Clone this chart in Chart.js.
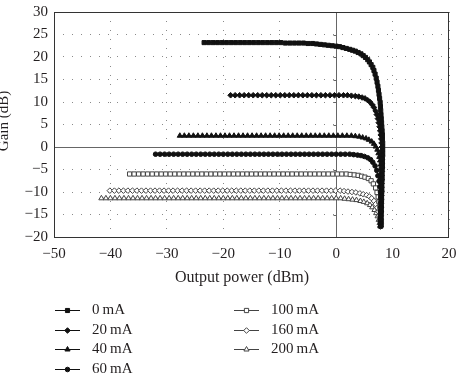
<!DOCTYPE html>
<html>
<head>
<meta charset="utf-8">
<script src="https://cdn.jsdelivr.net/npm/chart.js@4.4.0/dist/chart.umd.min.js"></script>
<style>
  html, body { margin: 0; padding: 0; background: #fff; }
  #wrap { position: relative; width: 457px; height: 374px; }
</style>
</head>
<body>
<div id="wrap"><canvas id="myChart" width="457" height="374"></canvas></div>
<script>
// [output power (dBm), gain (dB)]
const mA0 = [
  [-23.4,23.2],[-22.6,23.2],[-21.8,23.2],[-21.0,23.2],[-20.2,23.2],[-19.4,23.2],[-18.6,23.2],[-17.8,23.2],
  [-17.0,23.2],[-16.2,23.2],[-15.4,23.2],[-14.6,23.2],[-13.8,23.2],[-13.0,23.2],[-12.2,23.2],[-11.4,23.2],
  [-10.6,23.2],[-9.8,23.2],[-9.0,23.1],[-8.2,23.1],[-7.4,23.1],[-6.6,23.1],[-5.8,23.1],[-5.0,23.0],[-4.2,23.0],
  [-3.5,22.9],[-2.8,22.8],[-2.1,22.7],[-1.4,22.6],[-0.7,22.5],[0.0,22.4],[0.6,22.3],[1.2,22.1],[1.8,21.9],
  [2.4,21.7],[2.9,21.5],[3.4,21.3],[3.9,21.0],[4.4,20.7],[4.8,20.3],[5.2,19.9],[5.6,19.4],[5.9,18.9],
  [6.2,18.3],[6.5,17.7],[6.7,17.0],[6.9,16.2],[7.1,15.3],[7.25,14.4],[7.4,13.5],[7.5,12.6],[7.6,11.7],
  [7.7,10.8],[7.8,9.9],[7.85,9.0],[7.9,8.1],[7.95,7.2],[8.0,6.3],[8.05,5.4],[8.1,4.5],[8.15,3.6],[8.2,2.7],
  [8.2,1.8],[8.25,0.9],[8.25,0.0],[8.25,-0.9],[8.25,-1.8],[8.2,-2.7],[8.2,-3.6],[8.2,-4.5],[8.15,-5.4],
  [8.15,-6.3],[8.15,-7.2],[8.1,-8.1],[8.1,-9.0],[8.1,-9.9],[8.05,-10.8],[8.05,-11.7],[8.0,-12.6],[8.0,-13.5],
  [8.0,-14.4],[7.95,-15.3],[7.95,-16.2],[7.9,-17.1],[7.9,-17.6]
];
const mA20 = [
  [-18.7,11.5],[-17.9,11.5],[-17.1,11.5],[-16.3,11.5],[-15.5,11.5],[-14.7,11.5],[-13.9,11.5],[-13.1,11.5],
  [-12.3,11.5],[-11.5,11.5],[-10.7,11.5],[-9.9,11.5],[-9.1,11.5],[-8.3,11.5],[-7.5,11.5],[-6.7,11.5],
  [-5.9,11.5],[-5.1,11.5],[-4.3,11.5],[-3.5,11.5],[-2.7,11.5],[-1.9,11.5],[-1.1,11.5],[-0.3,11.5],[0.5,11.5],
  [1.3,11.5],[2.0,11.5],[2.7,11.4],[3.4,11.3],[4.0,11.2],[4.6,11.0],[5.1,10.8],[5.6,10.4],[6.0,10.0],[6.4,9.4],
  [6.7,8.8],[7.0,8.0],[7.2,7.2],[7.4,6.3],[7.55,5.4],[7.7,4.5],[7.8,3.6],[7.9,2.7],[8.0,1.8],[8.05,0.9],
  [8.1,0.0],[8.15,-0.9],[8.15,-1.8],[8.15,-2.7],[8.1,-3.6],[8.1,-4.5],[8.1,-5.4],[8.05,-6.3],[8.05,-7.2],
  [8.05,-8.1],[8.0,-9.0],[8.0,-9.9],[8.0,-10.8],[7.95,-11.7],[7.95,-12.6],[7.95,-13.5],[7.9,-14.4],
  [7.9,-15.3],[7.9,-16.2],[7.9,-17.1]
];
const mA40 = [
  [-27.7,2.5],[-26.9,2.5],[-26.1,2.5],[-25.3,2.5],[-24.5,2.5],[-23.7,2.5],[-22.9,2.5],[-22.1,2.5],[-21.3,2.5],
  [-20.5,2.5],[-19.7,2.5],[-18.9,2.5],[-18.1,2.5],[-17.3,2.5],[-16.5,2.5],[-15.7,2.5],[-14.9,2.5],[-14.1,2.5],
  [-13.3,2.5],[-12.5,2.5],[-11.7,2.5],[-10.9,2.5],[-10.1,2.5],[-9.3,2.5],[-8.5,2.5],[-7.7,2.5],[-6.9,2.5],
  [-6.1,2.5],[-5.3,2.5],[-4.5,2.5],[-3.7,2.5],[-2.9,2.5],[-2.1,2.5],[-1.3,2.5],[-0.5,2.5],[0.3,2.5],[1.1,2.5],
  [1.9,2.5],[2.7,2.5],[3.4,2.4],[4.1,2.3],[4.7,2.1],[5.3,1.9],[5.8,1.6],[6.3,1.2],[6.7,0.7],[7.0,0.1],
  [7.3,-0.6],[7.5,-1.4],[7.65,-2.2],[7.8,-3.0],[7.9,-3.9],[7.95,-4.8],[8.0,-5.7],[8.0,-6.6],[8.0,-7.5],
  [8.0,-8.4],[8.0,-9.3],[7.95,-10.2],[7.95,-11.1],[7.95,-12.0],[7.95,-12.9],[7.9,-13.8],[7.9,-14.7],
  [7.9,-15.6],[7.9,-16.5],[7.9,-17.4]
];
const mA60 = [
  [-32.0,-1.6],[-31.2,-1.6],[-30.4,-1.6],[-29.6,-1.6],[-28.8,-1.6],[-28.0,-1.6],[-27.2,-1.6],[-26.4,-1.6],
  [-25.6,-1.6],[-24.8,-1.6],[-24.0,-1.6],[-23.2,-1.6],[-22.4,-1.6],[-21.6,-1.6],[-20.8,-1.6],[-20.0,-1.6],
  [-19.2,-1.6],[-18.4,-1.6],[-17.6,-1.6],[-16.8,-1.6],[-16.0,-1.6],[-15.2,-1.6],[-14.4,-1.6],[-13.6,-1.6],
  [-12.8,-1.6],[-12.0,-1.6],[-11.2,-1.6],[-10.4,-1.6],[-9.6,-1.6],[-8.8,-1.6],[-8.0,-1.6],[-7.2,-1.6],
  [-6.4,-1.6],[-5.6,-1.6],[-4.8,-1.6],[-4.0,-1.6],[-3.2,-1.6],[-2.4,-1.6],[-1.6,-1.6],[-0.8,-1.6],[0.0,-1.6],
  [0.8,-1.6],[1.6,-1.6],[2.4,-1.6],[3.1,-1.7],[3.8,-1.8],[4.4,-1.9],[5.0,-2.1],[5.6,-2.4],[6.1,-2.8],
  [6.5,-3.4],[6.9,-4.2],[7.2,-5.2],[7.4,-6.4],[7.6,-7.6],[7.75,-8.8],[7.85,-10.0],[7.9,-11.1],[7.95,-12.2],
  [7.95,-13.3],[7.95,-14.4],[7.9,-15.5],[7.9,-16.6],[7.9,-17.5]
];
const mA100 = [
  [-36.6,-6.0],[-35.8,-6.0],[-35.0,-6.0],[-34.2,-6.0],[-33.4,-6.0],[-32.6,-6.0],[-31.8,-6.0],[-31.0,-6.0],
  [-30.2,-6.0],[-29.4,-6.0],[-28.6,-6.0],[-27.8,-6.0],[-27.0,-6.0],[-26.2,-6.0],[-25.4,-6.0],[-24.6,-6.0],
  [-23.8,-6.0],[-23.0,-6.0],[-22.2,-6.0],[-21.4,-6.0],[-20.6,-6.0],[-19.8,-6.0],[-19.0,-6.0],[-18.2,-6.0],
  [-17.4,-6.0],[-16.6,-6.0],[-15.8,-6.0],[-15.0,-6.0],[-14.2,-6.0],[-13.4,-6.0],[-12.6,-6.0],[-11.8,-6.0],
  [-11.0,-6.0],[-10.2,-6.0],[-9.4,-6.0],[-8.6,-6.0],[-7.8,-6.0],[-7.0,-6.0],[-6.2,-6.0],[-5.4,-6.0],
  [-4.6,-6.0],[-3.8,-6.0],[-3.0,-6.0],[-2.2,-6.0],[-1.4,-6.0],[-0.6,-6.0],[0.2,-6.0],[1.0,-6.0],[1.8,-6.0],
  [2.5,-6.1],[3.2,-6.2],[3.9,-6.3],[4.5,-6.5],[5.1,-6.7],[5.7,-7.0],[6.2,-7.5],[6.6,-8.2],[7.0,-9.1],
  [7.25,-10.1],[7.45,-11.1],[7.6,-12.2],[7.75,-13.3],[7.85,-14.4],[7.9,-15.5],[7.95,-16.5],[7.95,-17.4]
];
const mA160 = [
  [-40.1,-9.7],[-39.3,-9.7],[-38.5,-9.7],[-37.7,-9.7],[-36.9,-9.7],[-36.1,-9.7],[-35.3,-9.7],[-34.5,-9.7],
  [-33.7,-9.7],[-32.9,-9.7],[-32.1,-9.7],[-31.3,-9.7],[-30.5,-9.7],[-29.7,-9.7],[-28.9,-9.7],[-28.1,-9.7],
  [-27.3,-9.7],[-26.5,-9.7],[-25.7,-9.7],[-24.9,-9.7],[-24.1,-9.7],[-23.3,-9.7],[-22.5,-9.7],[-21.7,-9.7],
  [-20.9,-9.7],[-20.1,-9.7],[-19.3,-9.7],[-18.5,-9.7],[-17.7,-9.7],[-16.9,-9.7],[-16.1,-9.7],[-15.3,-9.7],
  [-14.5,-9.7],[-13.7,-9.7],[-12.9,-9.7],[-12.1,-9.7],[-11.3,-9.7],[-10.5,-9.7],[-9.7,-9.7],[-8.9,-9.7],
  [-8.1,-9.7],[-7.3,-9.7],[-6.5,-9.7],[-5.7,-9.7],[-4.9,-9.7],[-4.1,-9.7],[-3.3,-9.7],[-2.5,-9.7],
  [-1.7,-9.7],[-0.9,-9.7],[-0.1,-9.7],[0.7,-9.7],[1.4,-9.8],[2.1,-9.9],[2.8,-10.0],[3.5,-10.1],[4.2,-10.3],
  [4.8,-10.5],[5.4,-10.7],[5.9,-11.0],[6.3,-11.4],[6.7,-12.0],[7.0,-12.7],[7.3,-13.5],[7.5,-14.4],
  [7.65,-15.3],[7.75,-16.2],[7.85,-17.1],[7.85,-17.7]
];
const mA200 = [
  [-41.6,-11.4],[-40.8,-11.4],[-40.0,-11.4],[-39.2,-11.4],[-38.4,-11.4],[-37.6,-11.4],[-36.8,-11.4],
  [-36.0,-11.4],[-35.2,-11.4],[-34.4,-11.4],[-33.6,-11.4],[-32.8,-11.4],[-32.0,-11.4],[-31.2,-11.4],
  [-30.4,-11.4],[-29.6,-11.4],[-28.8,-11.4],[-28.0,-11.4],[-27.2,-11.4],[-26.4,-11.4],[-25.6,-11.4],
  [-24.8,-11.4],[-24.0,-11.4],[-23.2,-11.4],[-22.4,-11.4],[-21.6,-11.4],[-20.8,-11.4],[-20.0,-11.4],
  [-19.2,-11.4],[-18.4,-11.4],[-17.6,-11.4],[-16.8,-11.4],[-16.0,-11.4],[-15.2,-11.4],[-14.4,-11.4],
  [-13.6,-11.4],[-12.8,-11.4],[-12.0,-11.4],[-11.2,-11.4],[-10.4,-11.4],[-9.6,-11.4],[-8.8,-11.4],
  [-8.0,-11.4],[-7.2,-11.4],[-6.4,-11.4],[-5.6,-11.4],[-4.8,-11.4],[-4.0,-11.4],[-3.2,-11.4],[-2.4,-11.4],
  [-1.6,-11.4],[-0.8,-11.4],[0.0,-11.4],[0.8,-11.4],[1.5,-11.5],[2.2,-11.6],[2.9,-11.7],[3.6,-11.8],
  [4.3,-12.0],[4.9,-12.2],[5.5,-12.5],[6.0,-12.9],[6.4,-13.4],[6.8,-14.0],[7.1,-14.7],[7.35,-15.4],
  [7.55,-16.2],[7.7,-16.9],[7.8,-17.6]
];

const currents = ['0\u2009mA', '20\u2009mA', '40\u2009mA', '60\u2009mA', '100\u2009mA', '160\u2009mA', '200\u2009mA'];
const seriesData = [mA0, mA20, mA40, mA60, mA100, mA160, mA200];
const xTicks = [-50, -40, -30, -20, -10, 0, 10, 20];
const yTicks = [-20, -15, -10, -5, 0, 5, 10, 15, 20, 25, 30];

const FONT = '"Liberation Serif", "Times New Roman", serif';
const TEXT = '#231f20';

// marker look per series
const styles = [
  { pointStyle: 'rect', radius: 2.9, fill: '#111', stroke: '#111', line: '#111' },
  { pointStyle: 'rectRot', radius: 2.8, fill: '#111', stroke: '#111', line: '#111' },
  { pointStyle: 'triangle', radius: 3.0, fill: '#111', stroke: '#111', line: '#111' },
  { pointStyle: 'circle', radius: 2.3, fill: '#111', stroke: '#111', line: '#111' },
  { pointStyle: 'rect', radius: 3.0, fill: '#fff', stroke: '#444', line: '#444' },
  { pointStyle: 'rectRot', radius: 2.8, fill: '#fff', stroke: '#444', line: '#444' },
  { pointStyle: 'triangle', radius: 3.0, fill: '#fff', stroke: '#444', line: '#444' }
];

const datasets = seriesData.map((pts, i) => ({
  label: currents[i],
  data: pts.map(p => ({ x: p[0], y: p[1] })),
  showLine: true,
  borderColor: styles[i].line,
  borderWidth: 1,
  pointStyle: styles[i].pointStyle,
  pointRadius: styles[i].radius,
  pointBackgroundColor: styles[i].fill,
  pointBorderColor: styles[i].stroke,
  pointBorderWidth: 1,
  tension: 0
}));

const minus = v => String(v).replace('-', '\u2212');

const extras = {
  id: 'extras',
  beforeDatasetsDraw(chart) {
    const { ctx, chartArea: a, scales: { x, y } } = chart;
    ctx.save();
    ctx.strokeStyle = '#666';
    ctx.lineWidth = 1;
    const x0 = Math.round(x.getPixelForValue(0)) + 0.5;
    const y0 = Math.round(y.getPixelForValue(0)) + 0.5;
    ctx.beginPath();
    ctx.moveTo(x0, a.top); ctx.lineTo(x0, a.bottom);
    ctx.moveTo(a.left, y0); ctx.lineTo(a.right, y0);
    yTicks.forEach(v => {
      const py = Math.round(y.getPixelForValue(v)) + 0.5;
      ctx.moveTo(x0 - 3, py); ctx.lineTo(x0, py);
    });
    ctx.stroke();
    ctx.strokeStyle = '#333';
    ctx.strokeRect(Math.round(a.left) + 0.5, Math.round(a.top) + 0.5,
      Math.round(a.width) - 1, Math.round(a.height));
    ctx.restore();
  },
  afterDraw(chart) {
    const ctx = chart.ctx;
    ctx.save();
    ctx.fillStyle = TEXT;
    ctx.textBaseline = 'middle';
    // axis titles
    ctx.textAlign = 'center';
    ctx.font = '16px ' + FONT;
    ctx.fillText('Output power (dBm)', 242, 278);
    ctx.font = '15px ' + FONT;
    ctx.save();
    ctx.translate(4, 121);
    ctx.rotate(-Math.PI / 2);
    ctx.fillText('Gain (dB)', 0, 0);
    ctx.restore();
    // legend: two columns
    const spots = [[55, 310], [55, 330], [55, 349], [55, 369], [234, 310], [234, 330], [234, 349]];
    chart.data.datasets.forEach((ds, i) => {
      const [lx, ly] = spots[i];
      ctx.strokeStyle = ds.borderColor;
      ctx.lineWidth = 1;
      ctx.beginPath();
      ctx.moveTo(lx, ly + 0.5); ctx.lineTo(lx + 25, ly + 0.5);
      ctx.stroke();
      ctx.fillStyle = ds.pointBackgroundColor;
      ctx.strokeStyle = ds.pointBorderColor;
      Chart.helpers.drawPoint(ctx, { pointStyle: ds.pointStyle, radius: ds.pointRadius, rotation: 0, borderWidth: 1 }, lx + 12.5, ly + 0.5);
      ctx.fillStyle = TEXT;
      ctx.textAlign = 'left';
      ctx.fillText(ds.label, lx + 37, ly);
    });
    ctx.restore();
  }
};

new Chart(document.getElementById('myChart').getContext('2d'), {
  type: 'scatter',
  data: { datasets: datasets },
  options: {
    responsive: false,
    animation: false,
    layout: { padding: { top: 12, right: 8, left: 0, bottom: 0 } },
    plugins: { legend: { display: false }, tooltip: { enabled: false } },
    scales: {
      x: {
        type: 'linear',
        min: -50, max: 20,
        afterBuildTicks: s => { s.ticks = xTicks.map(v => ({ value: v })); },
        afterFit: s => { s.height = 137; s.paddingLeft = 0; s.paddingRight = 0; },
        grid: { color: '#8a8a8a', lineWidth: 1, drawTicks: false },
        border: { display: false, dash: [1, 8] },
        ticks: { padding: 8, color: TEXT, font: { family: FONT, size: 15 }, callback: minus, maxRotation: 0 }
      },
      y: {
        type: 'linear',
        min: -20, max: 30,
        afterBuildTicks: s => { s.ticks = yTicks.map(v => ({ value: v })); },
        afterFit: s => { s.width = 54; s.paddingTop = 0; s.paddingBottom = 0; },
        grid: { color: '#8a8a8a', lineWidth: 1, drawTicks: false },
        border: { display: false, dash: [1, 8] },
        ticks: { padding: 6, color: TEXT, font: { family: FONT, size: 15 }, callback: minus }
      }
    }
  },
  plugins: [extras]
});
</script>
</body>
</html>
